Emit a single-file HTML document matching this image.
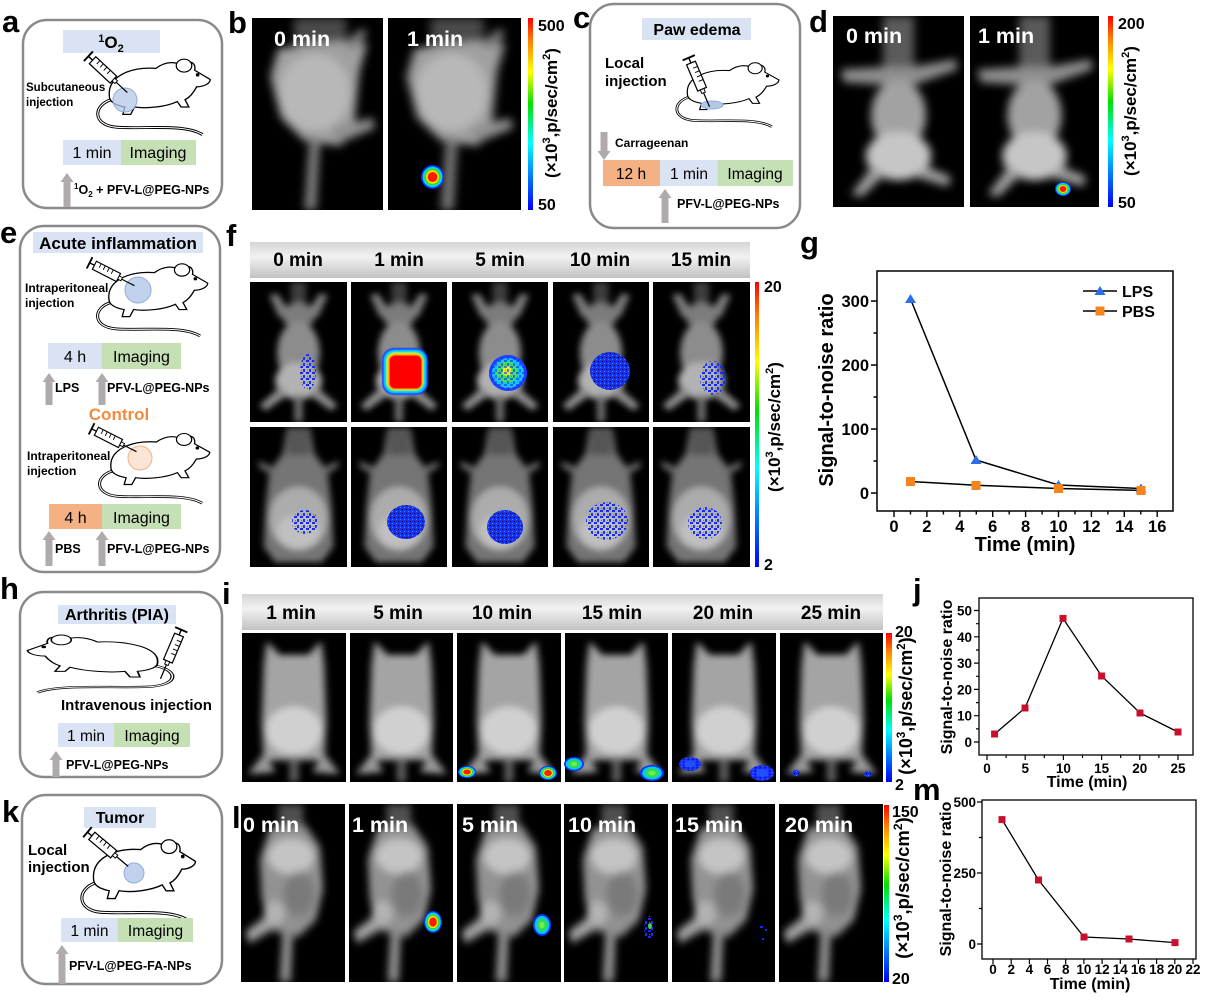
<!DOCTYPE html>
<html><head><meta charset="utf-8"><style>
html,body{margin:0;padding:0;background:#fff;}
svg{display:block;}
text{font-family:"Liberation Sans",Arial,sans-serif;font-weight:bold;}
.n{font-weight:normal;}
</style></head><body>
<svg width="1208" height="997" viewBox="0 0 1208 997" xmlns="http://www.w3.org/2000/svg">
<defs>
<linearGradient id="cb" x1="0" y1="0" x2="0" y2="1">
<stop offset="0" stop-color="#ff0000"/><stop offset=".12" stop-color="#ff8000"/><stop offset=".28" stop-color="#ffff00"/><stop offset=".45" stop-color="#00e000"/><stop offset=".65" stop-color="#00ffff"/><stop offset=".82" stop-color="#0080ff"/><stop offset="1" stop-color="#0000ff"/>
</linearGradient>
<linearGradient id="hd" x1="0" y1="0" x2="0" y2="1"><stop offset="0" stop-color="#d4d4d4"/><stop offset=".4" stop-color="#f2f2f2"/><stop offset="1" stop-color="#c2c2c2"/></linearGradient>
<filter id="bl" x="-30%" y="-30%" width="160%" height="160%"><feGaussianBlur stdDeviation="3.5"/></filter>
<filter id="bs" x="-30%" y="-30%" width="160%" height="160%"><feGaussianBlur stdDeviation="0.6"/></filter>
<pattern id="sp" width="6" height="6" patternUnits="userSpaceOnUse"><rect x="0" y="0" width="3" height="2" fill="#1428ff"/><rect x="3" y="3" width="2" height="3" fill="#1a30ff"/><rect x="1" y="4" width="1" height="1" fill="#0090ff"/></pattern>
<pattern id="sd" width="4" height="4" patternUnits="userSpaceOnUse"><rect width="4" height="4" fill="#1a2cff"/><rect x="2" y="1" width="1" height="1" fill="#000"/><rect x="0" y="3" width="1" height="1" fill="#3090ff"/></pattern>

<symbol id="hot" viewBox="-10 -10 20 20" preserveAspectRatio="none"><circle r="10" fill="#1030ff"/><circle r="8.6" fill="#00d8ff"/><circle r="7.2" fill="#30e030"/><circle r="5.6" fill="#ffe000"/><circle r="4.2" fill="#ff1a00"/></symbol>
<symbol id="cool" viewBox="-10 -10 20 20" preserveAspectRatio="none"><circle r="10" fill="#1030ff"/><circle r="8.2" fill="#00c8ff"/><circle r="6" fill="#30d860"/><circle r="3" fill="#70f040"/></symbol>
<symbol id="blu" viewBox="-10 -10 20 20" preserveAspectRatio="none"><circle r="10" fill="url(#sd)"/><circle r="5" fill="#2050ff"/></symbol>

<symbol id="mf1" viewBox="0 0 100 150" preserveAspectRatio="none">
<rect width="100" height="150" fill="#000"/>
<g filter="url(#bl)">
<path d="M42 0 H58 V22 H42Z" fill="#3c3c3c"/>
<path d="M30 38 L20 14 L28 12 L42 34Z" fill="#7e7e7e"/>
<path d="M70 38 L80 14 L72 12 L58 34Z" fill="#7e7e7e"/>
<ellipse cx="50" cy="36" rx="17" ry="14" fill="#7c7c7c"/>
<ellipse cx="50" cy="76" rx="22" ry="34" fill="#8c8c8c"/>
<ellipse cx="50" cy="106" rx="24" ry="20" fill="#b2b2b2"/>
<path d="M32 112 L10 132 L16 138 L40 120Z" fill="#909090"/>
<path d="M68 112 L90 132 L84 138 L60 120Z" fill="#909090"/>
<path d="M46 120 H54 V150 H46Z" fill="#777"/>
</g></symbol>

<symbol id="mf2" viewBox="0 0 100 150" preserveAspectRatio="none">
<rect width="100" height="150" fill="#000"/>
<g filter="url(#bl)">
<path d="M38 0 H62 L66 28 L80 48 L84 85 L86 128 L74 145 L26 145 L14 128 L16 85 L20 48 L34 28Z" fill="#747474"/>
<path d="M38 0 H62 V30 H38Z" fill="#555"/>
<path d="M22 42 L8 36 L10 44 L24 52Z" fill="#666"/>
<path d="M78 42 L92 36 L90 44 L76 52Z" fill="#666"/>
<ellipse cx="50" cy="98" rx="30" ry="34" fill="#acacac"/>
<ellipse cx="50" cy="112" rx="22" ry="18" fill="#c0c0c0"/>
</g></symbol>

<symbol id="md" viewBox="0 0 100 150" preserveAspectRatio="none">
<rect width="100" height="150" fill="#000"/>
<g filter="url(#bl)">
<path d="M38 0 H62 V42 H38Z" fill="#5a5a5a"/>
<path d="M6 42 L40 40 L60 40 L94 34 L95 42 L62 54 L38 54 L8 52Z" fill="#8e8e8e"/>
<ellipse cx="50" cy="78" rx="21" ry="28" fill="#a2a2a2"/>
<ellipse cx="50" cy="110" rx="25" ry="19" fill="#c6c6c6"/>
<path d="M30 118 L14 140 L22 142 L40 124Z" fill="#a0a0a0"/>
<path d="M70 118 L90 126 L88 134 L62 126Z" fill="#a0a0a0"/>
</g></symbol>

<symbol id="mi" viewBox="0 0 100 150" preserveAspectRatio="none">
<rect width="100" height="150" fill="#000"/>
<g filter="url(#bl)">
<path d="M24 8 L36 22 L64 22 L76 8 L79 32 L81 90 L79 128 L21 128 L19 90 L21 32Z" fill="#a4a4a4"/>
<ellipse cx="50" cy="98" rx="27" ry="24" fill="#d0d0d0"/>
<path d="M22 120 L6 142 L32 140Z" fill="#9a9a9a"/>
<path d="M78 120 L94 142 L68 140Z" fill="#9a9a9a"/>
<path d="M46 125 H54 V150 H46Z" fill="#6a6a6a"/>
</g></symbol>

<symbol id="mb" viewBox="0 0 100 150" preserveAspectRatio="none">
<rect width="100" height="150" fill="#000"/>
<g filter="url(#bl)">
<path d="M32 0 H72 V26 H32Z" fill="#4a4a4a"/>
<path d="M20 24 L68 18 L88 20 L82 42 L78 84 L68 100 L40 96 L22 78 L14 46Z" fill="#a0a0a0"/>
<ellipse cx="48" cy="58" rx="27" ry="30" fill="#b8b8b8"/>
<path d="M60 86 L92 78 L94 86 L66 98Z" fill="#909090"/>
<path d="M44 92 L40 150 L49 150 L52 94Z" fill="#7e7e7e"/>
<path d="M70 20 L84 8 L88 12 L78 26Z" fill="#808080"/>
</g></symbol>

<symbol id="ml" viewBox="0 0 100 150" preserveAspectRatio="none">
<rect width="100" height="150" fill="#000"/>
<g filter="url(#bl)">
<path d="M36 0 H60 V22 H36Z" fill="#505050"/>
<path d="M28 20 L62 18 L76 36 L79 72 L72 98 L55 112 L28 106 L20 80 L18 46Z" fill="#929292"/>
<ellipse cx="48" cy="44" rx="22" ry="15" fill="#c4c4c4"/>
<ellipse cx="56" cy="76" rx="15" ry="19" fill="#7a7a7a"/>
<ellipse cx="32" cy="92" rx="10" ry="10" fill="#b4b4b4"/>
<path d="M25 94 L4 108 L8 117 L32 105Z" fill="#a4a4a4"/>
<path d="M40 104 L37 150 L48 150 L50 108Z" fill="#8a8a8a"/>
</g></symbol>

<g id="cm">
<path d="M24 54 C5 60 4 82 30 84 C60 86 100 80 118 92" fill="none" stroke="#000" stroke-width="3.2"/>
<path d="M24 54 C5 60 4 82 30 84 C60 86 100 80 118 92" fill="none" stroke="#fff" stroke-width="1.2"/>
<path d="M22 50 C20 28 45 18 70 20 C80 12 92 12 96 18 C102 10 112 12 110 22 L126 32 C126 36 120 40 112 40 C108 48 104 52 100 54 L104 62 L96 62 L92 56 C80 62 60 64 48 62 L44 70 L36 70 L38 62 C28 60 22 56 22 50 Z" fill="#fff" stroke="#000" stroke-width="1.4"/>
<ellipse cx="99" cy="17" rx="8" ry="7" fill="#fff" stroke="#000" stroke-width="1.3"/>
<circle cx="113" cy="27" r="1.9" fill="#000"/>
</g>
<g id="syr">
<line x1="2" y1="-7" x2="2" y2="7" stroke="#000" stroke-width="2"/>
<line x1="2" y1="0" x2="8" y2="0" stroke="#000" stroke-width="1.5"/>
<rect x="8" y="-5" width="30" height="10" fill="#fff" stroke="#000" stroke-width="1.3"/>
<path d="M14 -5v5M19 -5v5M24 -5v5M29 -5v5" stroke="#000" stroke-width="1"/>
<rect x="38" y="-2" width="4" height="4" fill="#fff" stroke="#000" stroke-width="1"/>
<line x1="42" y1="0" x2="58" y2="0" stroke="#000" stroke-width="1.3"/>
</g>
</defs>

<rect width="1208" height="997" fill="#fff"/>

<!-- panel letters -->
<g font-size="31">
<text x="2" y="32">a</text>
<text x="228" y="33">b</text>
<text x="573" y="28">c</text>
<text x="809" y="32">d</text>
<text x="0" y="243">e</text>
<text x="226" y="246">f</text>
<text x="800" y="253">g</text>
<text x="0" y="599">h</text>
<text x="222" y="604">i</text>
<text x="913" y="600">j</text>
<text x="2" y="822">k</text>
<text x="232" y="828">l</text>
<text x="913" y="800">m</text>
</g>

<!-- ===== Panel a ===== -->
<rect x="23" y="20" width="199" height="188" rx="24" fill="#fff" stroke="#8a8a8a" stroke-width="2.5"/>
<rect x="63" y="30" width="97" height="23" fill="#dae3f3"/>
<text x="111" y="48" font-size="17" text-anchor="middle"><tspan font-size="11" dy="-6">1</tspan><tspan dy="6">O</tspan><tspan font-size="11" dy="4">2</tspan></text>
<use href="#cm" transform="translate(88,50) scale(0.97,0.92)"/>
<circle cx="125" cy="100" r="12" fill="#b4c7e7" fill-opacity=".75" stroke="#8faadc" stroke-width="1"/>
<use href="#syr" transform="translate(87,55) rotate(43) scale(0.95)"/>
<text x="26" y="91" font-size="11.5">Subcutaneous</text>
<text x="26" y="106" font-size="11.5">injection</text>
<rect x="63" y="140" width="58" height="25" fill="#dae3f3"/>
<rect x="121" y="140" width="75" height="25" fill="#c5e0b4"/>
<text x="92" y="158" font-size="16" class="n" text-anchor="middle">1 min</text>
<text x="158" y="158" font-size="16" class="n" text-anchor="middle">Imaging</text>
<path d="M60.5 182 L67 173 L73.5 182 L70.5 182 L70.5 207 L63.5 207 L63.5 182Z" fill="#afabab"/>
<text x="74" y="194" font-size="12.5"><tspan font-size="8" dy="-5">1</tspan><tspan dy="5">O</tspan><tspan font-size="8" dy="3">2</tspan><tspan dy="-3"> + PFV-L@PEG-NPs</tspan></text>

<!-- ===== Panel b ===== -->
<use href="#mb" x="252" y="18" width="131" height="192"/>
<use href="#mb" x="388" y="18" width="133" height="192"/>
<use href="#hot" x="421" y="165" width="23" height="24"/>
<text x="274" y="46" font-size="21.5" fill="#fff">0 min</text>
<text x="407" y="46" font-size="21.5" fill="#fff">1 min</text>
<rect x="528" y="18" width="5" height="192" fill="url(#cb)"/>
<text x="538" y="31" font-size="16">500</text>
<text x="538" y="210" font-size="16">50</text>
<text transform="translate(557,113) rotate(-90)" font-size="17" text-anchor="middle">(×10<tspan font-size="11" dy="-7">3</tspan><tspan dy="7">,p/sec/cm</tspan><tspan font-size="11" dy="-7">2</tspan><tspan dy="7">)</tspan></text>

<!-- ===== Panel c ===== -->
<rect x="590" y="4" width="210" height="224" rx="24" fill="#fff" stroke="#8a8a8a" stroke-width="2.5"/>
<rect x="642" y="18" width="109" height="22" fill="#dae3f3"/>
<text x="697" y="35" font-size="16" text-anchor="middle">Paw edema</text>
<text x="605" y="68" font-size="15">Local</text>
<text x="605" y="86" font-size="15">injection</text>
<use href="#cm" transform="translate(668,55) scale(0.88,0.78)"/>
<ellipse cx="712" cy="105" rx="11" ry="4" fill="#b4c7e7" stroke="#8faadc" stroke-width="1"/>
<use href="#syr" transform="translate(688,56) rotate(67) scale(0.95)"/>
<path d="M600.5 132 L607.5 132 L607.5 151 L610.5 151 L604 160 L597.5 151 L600.5 151Z" fill="#afabab"/>
<text x="615" y="147" font-size="12">Carrageenan</text>
<rect x="603" y="160" width="57" height="26" fill="#f4b183"/>
<rect x="660" y="160" width="58" height="26" fill="#dae3f3"/>
<rect x="718" y="160" width="75" height="26" fill="#c5e0b4"/>
<text x="631" y="179" font-size="15.5" class="n" text-anchor="middle">12 h</text>
<text x="689" y="179" font-size="15.5" class="n" text-anchor="middle">1 min</text>
<text x="755" y="179" font-size="15.5" class="n" text-anchor="middle">Imaging</text>
<path d="M658.5 198 L665 189 L671.5 198 L668.5 198 L668.5 223 L661.5 223 L661.5 198Z" fill="#afabab"/>
<text x="677" y="208" font-size="12.5">PFV-L@PEG-NPs</text>

<!-- ===== Panel d ===== -->
<use href="#md" x="833" y="16" width="131" height="191"/>
<use href="#md" x="970" y="16" width="129" height="191"/>
<use href="#hot" x="1055" y="182" width="16" height="14"/>
<text x="846" y="43" font-size="21.5" fill="#fff">0 min</text>
<text x="978" y="43" font-size="21.5" fill="#fff">1 min</text>
<rect x="1108" y="16" width="5" height="191" fill="url(#cb)"/>
<text x="1118" y="29" font-size="16">200</text>
<text x="1118" y="208" font-size="16">50</text>
<text transform="translate(1136,111) rotate(-90)" font-size="17" text-anchor="middle">(×10<tspan font-size="11" dy="-7">3</tspan><tspan dy="7">,p/sec/cm</tspan><tspan font-size="11" dy="-7">2</tspan><tspan dy="7">)</tspan></text>

<!-- ===== Panel e ===== -->
<rect x="20" y="226" width="200" height="346" rx="24" fill="#fff" stroke="#8a8a8a" stroke-width="2.5"/>
<rect x="33" y="232" width="170" height="21" fill="#dae3f3"/>
<text x="118" y="249" font-size="17" text-anchor="middle">Acute inflammation</text>
<use href="#cm" transform="translate(88,255) scale(0.95,0.88)"/>
<circle cx="138" cy="290" r="13" fill="#b4c7e7" fill-opacity=".8" stroke="#8faadc" stroke-width="1"/>
<use href="#syr" transform="translate(88,262) rotate(27) scale(0.9)"/>
<text x="25" y="292" font-size="12">Intraperitoneal</text>
<text x="25" y="307" font-size="12">injection</text>
<rect x="48" y="343" width="54" height="26" fill="#dae3f3"/>
<rect x="102" y="343" width="79" height="26" fill="#c5e0b4"/>
<text x="75" y="362" font-size="16" class="n" text-anchor="middle">4 h</text>
<text x="141.5" y="362" font-size="16" class="n" text-anchor="middle">Imaging</text>
<path d="M42.5 382 L49 373 L55.5 382 L52.5 382 L52.5 405 L45.5 405 L45.5 382Z" fill="#afabab"/>
<path d="M95.5 382 L102 373 L108.5 382 L105.5 382 L105.5 405 L98.5 405 L98.5 382Z" fill="#afabab"/>
<text x="55" y="392" font-size="12.5">LPS</text>
<text x="107" y="392" font-size="12.5">PFV-L@PEG-NPs</text>
<text x="119" y="420" font-size="17" text-anchor="middle" fill="#f08c40">Control</text>
<use href="#cm" transform="translate(90,425) scale(0.95,0.85)"/>
<circle cx="140" cy="458" r="12" fill="#fbe5d6" stroke="#f4b183" stroke-width="1"/>
<use href="#syr" transform="translate(90,428) rotate(27) scale(0.9)"/>
<text x="27" y="460" font-size="12">Intraperitoneal</text>
<text x="27" y="475" font-size="12">injection</text>
<rect x="49" y="504" width="53" height="25" fill="#f4b183"/>
<rect x="102" y="504" width="79" height="25" fill="#c5e0b4"/>
<text x="75.5" y="523" font-size="16" class="n" text-anchor="middle">4 h</text>
<text x="141.5" y="523" font-size="16" class="n" text-anchor="middle">Imaging</text>
<path d="M42.5 540 L49 531 L55.5 540 L52.5 540 L52.5 566 L45.5 566 L45.5 540Z" fill="#afabab"/>
<path d="M95.5 540 L102 531 L108.5 540 L105.5 540 L105.5 566 L98.5 566 L98.5 540Z" fill="#afabab"/>
<text x="55" y="553" font-size="12.5">PBS</text>
<text x="107" y="553" font-size="12.5">PFV-L@PEG-NPs</text>

<!-- ===== Panel f ===== -->
<rect x="250" y="242" width="500" height="36" fill="url(#hd)"/>
<g font-size="19" text-anchor="middle">
<text x="298" y="266">0 min</text>
<text x="399" y="266">1 min</text>
<text x="500" y="266">5 min</text>
<text x="600" y="266">10 min</text>
<text x="701" y="266">15 min</text>
</g>
<use href="#mf1" x="250" y="282" width="97" height="140"/>
<use href="#mf1" x="351" y="282" width="96" height="140"/>
<use href="#mf1" x="452" y="282" width="96" height="140"/>
<use href="#mf1" x="553" y="282" width="96" height="140"/>
<use href="#mf1" x="653" y="282" width="97" height="140"/>
<use href="#mf2" x="250" y="427" width="97" height="140"/>
<use href="#mf2" x="351" y="427" width="96" height="140"/>
<use href="#mf2" x="452" y="427" width="96" height="140"/>
<use href="#mf2" x="553" y="427" width="96" height="140"/>
<use href="#mf2" x="653" y="427" width="97" height="140"/>
<!-- signals row 1 -->
<ellipse cx="308" cy="372" rx="8" ry="18" fill="url(#sp)"/>
<g filter="url(#bs)">
<rect x="382" y="348" width="46" height="47" rx="12" fill="#1e40ff"/>
<rect x="384" y="350" width="42" height="43" rx="10" fill="#00d0ff"/>
<rect x="386" y="352" width="38" height="39" rx="9" fill="#40ff40"/>
<rect x="387" y="353" width="36" height="37" rx="8" fill="#ffd000"/>
<rect x="389" y="355" width="33" height="34" rx="6" fill="#ff0000"/>
</g>
<ellipse cx="508" cy="373" rx="19" ry="18" fill="#1e40ff"/>
<ellipse cx="508" cy="373" rx="16" ry="15" fill="#10c8ff"/>
<ellipse cx="507" cy="372" rx="11" ry="11" fill="#40e060"/>
<ellipse cx="507" cy="371" rx="5" ry="5" fill="#e0f020"/>
<ellipse cx="508" cy="373" rx="19" ry="18" fill="url(#sp)" opacity=".6"/>
<ellipse cx="610" cy="371" rx="20" ry="19" fill="url(#sd)"/>
<ellipse cx="713" cy="378" rx="13" ry="17" fill="url(#sp)"/>
<!-- signals row 2 -->
<ellipse cx="305" cy="522" rx="13" ry="12" fill="url(#sp)"/>
<ellipse cx="406" cy="522" rx="19" ry="17" fill="url(#sd)"/>
<ellipse cx="505" cy="527" rx="18" ry="17" fill="url(#sd)"/>
<ellipse cx="607" cy="521" rx="21" ry="19" fill="url(#sp)"/>
<ellipse cx="705" cy="523" rx="17" ry="16" fill="url(#sp)"/>
<rect x="755" y="282" width="4" height="285" fill="url(#cb)"/>
<text x="764" y="292" font-size="16">20</text>
<text x="764" y="570" font-size="16">2</text>
<text transform="translate(780,427) rotate(-90)" font-size="17" text-anchor="middle">(×10<tspan font-size="11" dy="-7">3</tspan><tspan dy="7">,p/sec/cm</tspan><tspan font-size="11" dy="-7">2</tspan><tspan dy="7">)</tspan></text>

<!-- ===== Panel g ===== -->
<rect x="877" y="271" width="296" height="240" fill="none" stroke="#000" stroke-width="1.5"/>
<g stroke="#000" stroke-width="1.4">
<path d="M894 511v6M926.9 511v6M959.8 511v6M992.7 511v6M1025.6 511v6M1058.5 511v6M1091.4 511v6M1124.3 511v6M1157.2 511v6"/>
<path d="M910.5 511v3.5M943.4 511v3.5M976.3 511v3.5M1009.2 511v3.5M1042.1 511v3.5M1075 511v3.5M1107.9 511v3.5M1140.8 511v3.5"/>
<path d="M877 493h-6M877 429h-6M877 365h-6M877 301h-6"/>
<path d="M877 461h-3.5M877 397h-3.5M877 333h-3.5"/>
</g>
<g font-size="16.5" text-anchor="end">
<text x="869" y="499">0</text><text x="869" y="435">100</text><text x="869" y="371">200</text><text x="869" y="307">300</text>
</g>
<g font-size="16.5" text-anchor="middle">
<text x="894" y="532">0</text><text x="926.9" y="532">2</text><text x="959.8" y="532">4</text><text x="992.7" y="532">6</text><text x="1025.6" y="532">8</text><text x="1058.5" y="532">10</text><text x="1091.4" y="532">12</text><text x="1124.3" y="532">14</text><text x="1157.2" y="532">16</text>
</g>
<text x="1025" y="551" font-size="20" text-anchor="middle">Time (min)</text>
<text transform="translate(833,390) rotate(-90)" font-size="20" text-anchor="middle">Signal-to-noise ratio</text>
<polyline points="910.5,299 976,460 1058.5,485 1141,488.5" fill="none" stroke="#000" stroke-width="1.5"/>
<polyline points="910.5,481.5 976,485.3 1058.5,488.5 1141,490.4" fill="none" stroke="#000" stroke-width="1.5"/>
<g fill="#2a6ee8">
<path d="M910.5 294 L916 303 L905 303Z"/><path d="M976 455 L981.5 464 L970.5 464Z"/><path d="M1058.5 480 L1064 489 L1053 489Z"/><path d="M1141 483.5 L1146.5 492.5 L1135.5 492.5Z"/>
</g>
<g fill="#f5841f">
<rect x="906" y="477" width="9" height="9"/><rect x="971.5" y="481" width="9" height="9"/><rect x="1054" y="484" width="9" height="9"/><rect x="1136.5" y="486" width="9" height="9"/>
</g>
<line x1="1083" y1="291" x2="1117" y2="291" stroke="#000" stroke-width="1.5"/>
<path d="M1100 286 L1105.5 295 L1094.5 295Z" fill="#2a6ee8"/>
<text x="1122" y="297" font-size="16">LPS</text>
<line x1="1083" y1="311" x2="1117" y2="311" stroke="#000" stroke-width="1.5"/>
<rect x="1095.5" y="306.5" width="9" height="9" fill="#f5841f"/>
<text x="1122" y="317" font-size="16">PBS</text>

<!-- ===== Panel h ===== -->
<rect x="20" y="592" width="202" height="185" rx="24" fill="#fff" stroke="#8a8a8a" stroke-width="2.5"/>
<rect x="58" y="605" width="118" height="19" fill="#dae3f3"/>
<text x="117" y="620" font-size="16" text-anchor="middle">Arthritis (PIA)</text>
<use href="#cm" transform="translate(185,628) scale(-1.25,0.7)"/>
<use href="#syr" transform="translate(182,628) rotate(113) scale(0.95)"/>
<text x="61" y="710" font-size="15">Intravenous injection</text>
<rect x="58" y="723" width="56" height="24" fill="#dae3f3"/>
<rect x="114" y="723" width="76" height="24" fill="#c5e0b4"/>
<text x="86" y="741" font-size="15.5" class="n" text-anchor="middle">1 min</text>
<text x="152" y="741" font-size="15.5" class="n" text-anchor="middle">Imaging</text>
<path d="M49.5 760 L56 751 L62.5 760 L59.5 760 L59.5 777 L52.5 777 L52.5 760Z" fill="#afabab"/>
<text x="66" y="769" font-size="12.5">PFV-L@PEG-NPs</text>

<!-- ===== Panel i ===== -->
<rect x="242" y="594" width="641" height="36" fill="url(#hd)"/>
<g font-size="19" text-anchor="middle">
<text x="291" y="619">1 min</text>
<text x="398" y="619">5 min</text>
<text x="502" y="619">10 min</text>
<text x="612" y="619">15 min</text>
<text x="723" y="619">20 min</text>
<text x="831" y="619">25 min</text>
</g>
<use href="#mi" x="242" y="633" width="104" height="149"/>
<use href="#mi" x="350" y="633" width="103" height="149"/>
<use href="#mi" x="457" y="633" width="104" height="149"/>
<use href="#mi" x="565" y="633" width="103" height="149"/>
<use href="#mi" x="672" y="633" width="104" height="149"/>
<use href="#mi" x="780" y="633" width="103" height="149"/>
<use href="#hot" x="458" y="766" width="18" height="12"/>
<use href="#hot" x="539" y="766" width="18" height="14"/>
<use href="#cool" x="564" y="757" width="20" height="14"/>
<use href="#cool" x="640" y="765" width="24" height="16"/>
<use href="#blu" x="679" y="757" width="22" height="14"/>
<use href="#blu" x="750" y="765" width="24" height="16"/>
<ellipse cx="796" cy="773" rx="4" ry="3" fill="url(#sd)"/>
<ellipse cx="868" cy="774" rx="4" ry="3" fill="url(#sd)"/>
<rect x="886" y="633" width="6" height="149" fill="url(#cb)"/>
<text x="895" y="637" font-size="16">20</text>
<text x="895" y="790" font-size="16">2</text>
<text transform="translate(912,706) rotate(-90)" font-size="18" text-anchor="middle">(×10<tspan font-size="11.5" dy="-7">3</tspan><tspan dy="7">,p/sec/cm</tspan><tspan font-size="11.5" dy="-7">2</tspan><tspan dy="7">)</tspan></text>

<!-- ===== Panel j ===== -->
<rect x="979" y="598" width="214" height="157" fill="none" stroke="#000" stroke-width="1.3"/>
<g stroke="#000" stroke-width="1.2">
<path d="M987 755v5M1025.2 755v5M1063.4 755v5M1101.6 755v5M1139.8 755v5M1178 755v5"/>
<path d="M1006.1 755v3M1044.3 755v3M1082.5 755v3M1120.7 755v3M1158.9 755v3"/>
<path d="M979 742h-5M979 715.7h-5M979 689.4h-5M979 663.1h-5M979 636.8h-5M979 610.5h-5"/>
<path d="M979 728.9h-3M979 702.6h-3M979 676.3h-3M979 650h-3M979 623.7h-3"/>
</g>
<g font-size="13.5" text-anchor="end">
<text x="972" y="747">0</text><text x="972" y="720.7">10</text><text x="972" y="694.4">20</text><text x="972" y="668.1">30</text><text x="972" y="641.8">40</text><text x="972" y="615.5">50</text>
</g>
<g font-size="13.5" text-anchor="middle">
<text x="987" y="773">0</text><text x="1025.2" y="773">5</text><text x="1063.4" y="773">10</text><text x="1101.6" y="773">15</text><text x="1139.8" y="773">20</text><text x="1178" y="773">25</text>
</g>
<text x="1087" y="787" font-size="16" text-anchor="middle">Time (min)</text>
<text transform="translate(952,677) rotate(-90)" font-size="16" text-anchor="middle">Signal-to-noise ratio</text>
<polyline points="994.6,734 1025,708 1063,618.4 1101.6,676 1140,713 1178,732" fill="none" stroke="#000" stroke-width="1.3"/>
<g fill="#c8102e">
<rect x="991.1" y="730.5" width="7" height="7"/><rect x="1021.5" y="704.5" width="7" height="7"/><rect x="1059.5" y="614.9" width="7" height="7"/><rect x="1098.1" y="672.5" width="7" height="7"/><rect x="1136.5" y="709.5" width="7" height="7"/><rect x="1174.5" y="728.5" width="7" height="7"/>
</g>

<!-- ===== Panel k ===== -->
<rect x="22" y="795" width="200" height="189" rx="24" fill="#fff" stroke="#8a8a8a" stroke-width="2.5"/>
<rect x="84" y="807" width="72" height="21" fill="#dae3f3"/>
<text x="120" y="823" font-size="16" text-anchor="middle">Tumor</text>
<use href="#cm" transform="translate(72,830) scale(0.98,0.98)"/>
<circle cx="134" cy="873" r="10" fill="#b4c7e7" fill-opacity=".8" stroke="#8faadc" stroke-width="1"/>
<use href="#syr" transform="translate(86,831) rotate(40) scale(0.95)"/>
<text x="28" y="855" font-size="15">Local</text>
<text x="28" y="872" font-size="15">injection</text>
<rect x="61" y="918" width="57" height="24" fill="#dae3f3"/>
<rect x="118" y="918" width="75" height="24" fill="#c5e0b4"/>
<text x="89.5" y="936" font-size="15.5" class="n" text-anchor="middle">1 min</text>
<text x="155.5" y="936" font-size="15.5" class="n" text-anchor="middle">Imaging</text>
<path d="M55.5 954 L62 945 L68.5 954 L65.5 954 L65.5 984 L58.5 984 L58.5 954Z" fill="#afabab"/>
<text x="69" y="970" font-size="12.5">PFV-L@PEG-FA-NPs</text>

<!-- ===== Panel l ===== -->
<use href="#ml" x="241" y="804" width="104" height="178"/>
<use href="#ml" x="349" y="804" width="104" height="178"/>
<use href="#ml" x="457" y="804" width="104" height="178"/>
<use href="#ml" x="564" y="804" width="104" height="178"/>
<use href="#ml" x="672" y="804" width="103" height="178"/>
<use href="#ml" x="779" y="804" width="104" height="178"/>
<use href="#hot" x="424" y="911" width="18" height="22"/>
<use href="#cool" x="533" y="914" width="18" height="22"/>
<ellipse cx="649" cy="928" rx="5" ry="12" fill="url(#sp)"/>
<ellipse cx="650" cy="926" rx="2" ry="3" fill="#30d860"/>
<rect x="760" y="926" width="3" height="2" fill="#1428ff"/><rect x="765" y="929" width="2" height="2" fill="#1428ff"/><rect x="762" y="938" width="2" height="2" fill="#1428ff"/>
<g font-size="21.5" fill="#fff">
<text x="243" y="832">0 min</text>
<text x="352" y="832">1 min</text>
<text x="462" y="832">5 min</text>
<text x="568" y="832">10 min</text>
<text x="675" y="832">15 min</text>
<text x="785" y="832">20 min</text>
</g>
<rect x="884" y="805" width="5" height="177" fill="url(#cb)"/>
<text x="892" y="817" font-size="16">150</text>
<text x="892" y="984" font-size="16">20</text>
<text transform="translate(909,888) rotate(-90)" font-size="18.5" text-anchor="middle">(×10<tspan font-size="12" dy="-7">3</tspan><tspan dy="7">,p/sec/cm</tspan><tspan font-size="12" dy="-7">2</tspan><tspan dy="7">)</tspan></text>

<!-- ===== Panel m ===== -->
<rect x="982" y="800" width="214" height="159" fill="none" stroke="#000" stroke-width="1.3"/>
<g stroke="#000" stroke-width="1.2">
<path d="M993 959v5M1011.2 959v5M1029.4 959v5M1047.5 959v5M1065.7 959v5M1083.9 959v5M1102.1 959v5M1120.3 959v5M1138.4 959v5M1156.6 959v5M1174.8 959v5M1193 959v5"/>
<path d="M982 944h-5M982 873h-5M982 802h-5"/>
<path d="M982 908.5h-3M982 837.5h-3"/>
</g>
<g font-size="13.5" text-anchor="end">
<text x="976" y="949">0</text><text x="976" y="878">250</text><text x="976" y="807">500</text>
</g>
<g font-size="13.5" text-anchor="middle">
<text x="993" y="974">0</text><text x="1011.2" y="974">2</text><text x="1029.4" y="974">4</text><text x="1047.5" y="974">6</text><text x="1065.7" y="974">8</text><text x="1083.9" y="974">10</text><text x="1102.1" y="974">12</text><text x="1120.3" y="974">14</text><text x="1138.4" y="974">16</text><text x="1156.6" y="974">18</text><text x="1174.8" y="974">20</text><text x="1193" y="974">22</text>
</g>
<text x="1090" y="989" font-size="16" text-anchor="middle">Time (min)</text>
<text transform="translate(951,879) rotate(-90)" font-size="16" text-anchor="middle">Signal-to-noise ratio</text>
<polyline points="1002,819.6 1038.5,880 1084,937 1129,939 1175,942.6" fill="none" stroke="#000" stroke-width="1.3"/>
<g fill="#c8102e">
<rect x="998.5" y="816.1" width="7" height="7"/><rect x="1035" y="876.5" width="7" height="7"/><rect x="1080.5" y="933.5" width="7" height="7"/><rect x="1125.5" y="935.5" width="7" height="7"/><rect x="1171.5" y="939.1" width="7" height="7"/>
</g>
</svg>
</body></html>
